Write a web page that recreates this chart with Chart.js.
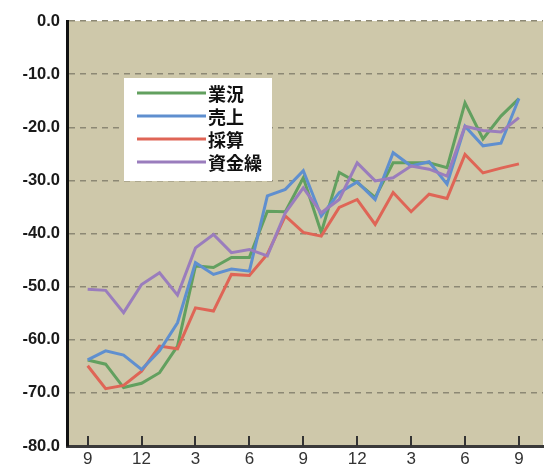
<!DOCTYPE html>
<html>
<head>
<meta charset="utf-8">
<style>
  html, body { margin: 0; padding: 0; background: #fff; }
  #wrap { width: 554px; height: 464px; }
</style>
<script src="https://cdn.jsdelivr.net/npm/chart.js@4/dist/chart.umd.min.js"></script>
</head>
<body>
<div id="wrap"><canvas id="dichart" width="554" height="464"></canvas></div>
<script>
// months Sep .. Sep two years later
const months = [9, 10, 11, 12, 1, 2, 3, 4, 5, 6, 7, 8, 9, 10, 11, 12, 1, 2, 3, 4, 5, 6, 7, 8, 9];
const tickLabels = ['9', '12', '3', '6', '9', '12', '3', '6', '9'];
const yTicks = [0, -10, -20, -30, -40, -50, -60, -70, -80];

const gyokyo = [-63.8, -64.6, -69.0, -68.2, -66.2, -61.2, -46.1, -46.4, -44.5, -44.5, -35.8, -35.9, -29.5,
  -39.8, -28.5, -30.4, -33.2, -26.7, -26.7, -26.7, -27.6, -15.4, -22.2, -17.9, -14.6];
const uriage = [-63.8, -62.1, -62.9, -65.6, -62.1, -56.8, -45.5, -47.7, -46.7, -47.1, -32.9, -31.7, -28.2,
  -36.7, -32.3, -30.3, -33.6, -24.8, -27.3, -26.5, -30.7, -19.8, -23.5, -23.0, -14.6];
const saisan = [-64.9, -69.2, -68.6, -65.9, -61.2, -61.7, -54.0, -54.6, -47.7, -47.9, -43.9, -36.7, -39.8,
  -40.5, -35.1, -33.6, -38.3, -32.3, -35.9, -32.6, -33.4, -25.1, -28.6, -27.7, -26.9];
const shikinguri = [-50.5, -50.7, -54.9, -49.6, -47.4, -51.6, -42.7, -40.2, -43.6, -43.0, -44.2, -36.1, -31.4,
  -36.1, -33.6, -26.7, -30.1, -29.5, -27.3, -27.9, -29.2, -19.8, -20.6, -20.9, -18.2];

const seriesNames = ['業況', '売上', '採算', '資金繰'];
const seriesColors = ['#62a05f', '#5f8fcf', '#df6556', '#9a7dbd'];

function toPoints(arr) {
  return arr.map((v, i) => ({ x: i, y: v }));
}

// tan plot background
const plotBg = {
  id: 'plotBg',
  beforeDraw(chart) {
    const { ctx, chartArea: a } = chart;
    ctx.save();
    ctx.fillStyle = '#cec8aa';
    ctx.fillRect(a.left, a.top, a.right - a.left, a.bottom - a.top);
    ctx.restore();
  }
};

// small tick marks pointing up from the x axis
const innerTicks = {
  id: 'innerTicks',
  afterDraw(chart) {
    const { ctx } = chart;
    const xs = chart.scales.x;
    const bottom = chart.chartArea.bottom;
    ctx.save();
    ctx.strokeStyle = '#333';
    ctx.lineWidth = 2;
    xs.ticks.forEach(t => {
      const px = Math.round(xs.getPixelForValue(t.value));
      ctx.beginPath();
      ctx.moveTo(px, bottom);
      ctx.lineTo(px, bottom - 10);
      ctx.stroke();
    });
    ctx.restore();
  }
};

// boxed legend inside the plot
const boxLegend = {
  id: 'boxLegend',
  afterDatasetsDraw(chart) {
    const { ctx } = chart;
    const x0 = 124, y0 = 78, w = 148, h = 103;
    ctx.save();
    ctx.fillStyle = '#ffffff';
    ctx.fillRect(x0, y0, w, h);
    ctx.font = 'bold 18px "Noto Sans CJK JP"';
    ctx.textBaseline = 'middle';
    ctx.textAlign = 'left';
    chart.data.datasets.forEach((ds, i) => {
      const cy = 93 + i * 23;
      ctx.strokeStyle = ds.borderColor;
      ctx.lineWidth = 3;
      ctx.beginPath();
      ctx.moveTo(137, cy);
      ctx.lineTo(206, cy);
      ctx.stroke();
      ctx.fillStyle = '#111';
      ctx.fillText(ds.label, 208, cy + 1);
    });
    ctx.restore();
  }
};

const allSeries = [gyokyo, uriage, saisan, shikinguri];
const drawOrder = [3, 1, 2, 0];

new Chart(document.getElementById('dichart'), {
  type: 'line',
  data: {
    datasets: allSeries.map((arr, i) => ({
      label: seriesNames[i],
      data: toPoints(arr),
      borderColor: seriesColors[i],
      borderWidth: 3,
      pointRadius: 0,
      tension: 0,
      fill: false,
      order: drawOrder[i]
    }))
  },
  options: {
    responsive: false,
    animation: false,
    layout: { padding: { top: 21, right: 11, left: 0, bottom: 0 } },
    plugins: {
      legend: { display: false },
      tooltip: { enabled: false }
    },
    scales: {
      x: {
        type: 'linear',
        min: -1.15,
        max: months.length - 1 + 1.34,
        afterBuildTicks(scale) {
          scale.ticks = tickLabels.map((_, k) => ({ value: k * 3 }));
        },
        afterFit(scale) { scale.height = 18; },
        grid: { display: false, drawTicks: false },
        border: { display: true, color: '#3a3a3a', width: 3 },
        ticks: {
          padding: 3,
          autoSkip: false,
          maxRotation: 0,
          color: '#333',
          font: { family: 'Liberation Sans', size: 17 },
          callback: (v) => tickLabels[Math.round(v / 3)]
        }
      },
      y: {
        min: -80,
        max: 0,
        afterBuildTicks(scale) {
          scale.ticks = yTicks.map(v => ({ value: v }));
        },
        afterFit(scale) { scale.width = 67; },
        grid: { color: '#8c8874', lineWidth: 1.5, drawTicks: false },
        border: { display: true, color: '#111', width: 3, dash: [6, 5] },
        ticks: {
          padding: 7,
          color: '#1a1a1a',
          font: { family: 'Liberation Sans', size: 16.5, weight: 'bold' },
          callback: (v) => v.toFixed(1)
        }
      }
    }
  },
  plugins: [plotBg, innerTicks, boxLegend]
});
</script>
</body>
</html>
